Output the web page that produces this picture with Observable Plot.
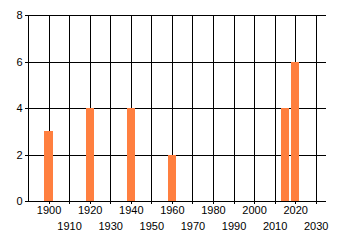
<!DOCTYPE html>
<html>
<head>
<meta charset="utf-8">
<script src="https://cdn.jsdelivr.net/npm/d3@7"></script>
<script src="https://cdn.jsdelivr.net/npm/@observablehq/plot@0.6"></script>
<style>
html,body{margin:0;padding:0;background:#fff;}
</style>
</head>
<body>
<div id="chart"></div>
<script>
const years = [1900, 1920, 1940, 1960, 2015, 2020];
const values = [3, 4, 4, 2, 4, 6];
const decadeTicks = [1900, 1910, 1920, 1930, 1940, 1950, 1960, 1970, 1980, 1990, 2000, 2010, 2020, 2030];
const upperLabels = [1900, 1920, 1940, 1960, 1980, 2000, 2020];
const lowerLabels = [1910, 1930, 1950, 1970, 1990, 2010, 2030];
const yTicks = [0, 2, 4, 6, 8];

const data = years.map((year, i) => ({year, value: values[i]}));

const chart = Plot.plot({
  width: 340,
  height: 245,
  marginLeft: 28,
  marginRight: 14,
  marginTop: 15,
  marginBottom: 44,
  x: {domain: [1890, 2035]},
  y: {domain: [0, 8]},
  style: {fontFamily: "'Liberation Sans', Arial, sans-serif", fontSize: "11px", background: "#fff", color: "#000"},
  marks: [
    Plot.gridX(decadeTicks, {stroke: "#000", strokeOpacity: 1, shapeRendering: "crispEdges"}),
    Plot.gridY(yTicks, {stroke: "#000", strokeOpacity: 1, shapeRendering: "crispEdges"}),
    Plot.ruleX([1890], {stroke: "#000", shapeRendering: "crispEdges"}),
    Plot.rectY(data, {x1: d => d.year - 2, x2: d => d.year + 2, y: "value", fill: "#ff7f3f", shapeRendering: "crispEdges"}),
    Plot.axisY(yTicks, {tickSize: 3, tickPadding: 3, label: null, shapeRendering: "crispEdges", tickFormat: d => String(d)}),
    Plot.axisX(decadeTicks, {tickSize: 3, tickPadding: 2, label: null, shapeRendering: "crispEdges", tickFormat: d => upperLabels.includes(d) ? String(d) : ""}),
    Plot.axisX(lowerLabels, {tickSize: 0, tickPadding: 21, label: null, tickFormat: d => String(d)})
  ]
});
document.getElementById("chart").appendChild(chart);
</script>
</body>
</html>
